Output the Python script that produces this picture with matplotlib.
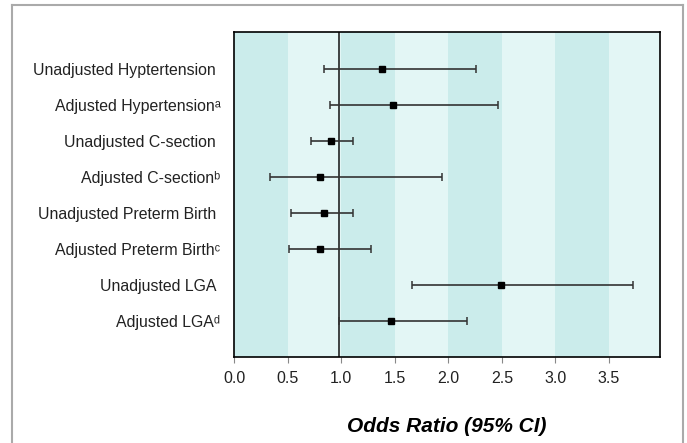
import matplotlib
matplotlib.use("Agg")
import matplotlib.pyplot as plt
from matplotlib.lines import Line2D

plt.rcParams['font.family'] = ['Liberation Sans', 'DejaVu Sans']

# forest plot data
labels = [
    "Unadjusted Hyptertension ",
    "Adjusted Hypertension\u1d43",
    "Unadjusted C-section ",
    "Adjusted C-section\u1d47",
    "Unadjusted Preterm Birth ",
    "Adjusted Preterm Birth\u1d9c",
    "Unadjusted LGA ",
    "Adjusted LGA\u1d48",
]
odds_ratio = [1.38, 1.48, 0.90, 0.80, 0.84, 0.80, 2.49, 1.46]
ci_low = [0.84, 0.89, 0.72, 0.33, 0.53, 0.51, 1.66, 0.98]
ci_high = [2.26, 2.46, 1.11, 1.94, 1.11, 1.28, 3.73, 2.17]
xticks = [0.0, 0.5, 1.0, 1.5, 2.0, 2.5, 3.0, 3.5]
ref_x = 0.98

fig = plt.figure(figsize=(6.87, 4.43), dpi=100)
ax = fig.add_axes([0.341, 0.194, 0.620, 0.734])

# alternating background bands every 0.5
dark = '#cbeceb'
light = '#e3f6f5'
for i in range(8):
    ax.axvspan(i * 0.5, (i + 1) * 0.5, color=dark if i % 2 == 0 else light,
               lw=0, zorder=0)

ax.axvline(ref_x, color='#111111', lw=1.1, zorder=1)

y = list(range(len(labels)))
xerr = [[o - l for o, l in zip(odds_ratio, ci_low)],
        [h - o for o, h in zip(odds_ratio, ci_high)]]
ax.errorbar(odds_ratio, y, xerr=xerr, fmt='s', color='black', ms=5,
            ecolor='#333333', elinewidth=1.2, capsize=2.8, capthick=1.1,
            zorder=3)

ax.set_xlim(0, 3.98)
ax.set_ylim(8.0, -1.03)
ax.set_xticks(xticks)
ax.set_xticklabels([f"{t:.1f}" for t in xticks], fontsize=11.5, color='#222222')
ax.set_yticks(y)
ax.set_yticklabels(labels, fontsize=11.4, color='#222222')
ax.tick_params(axis='y', length=0, pad=10)
ax.tick_params(axis='x', length=4, color='#888888', pad=6, direction='out')

for s in ax.spines.values():
    s.set_color('black')
    s.set_linewidth(1.2)

ax.set_xlabel("Odds Ratio (95% CI)", fontsize=15, fontweight='bold',
              fontstyle='italic', labelpad=22)

# light grey frame around the whole chart (open at the bottom)
fx0, fx1, fy1 = 12.5 / 687, 683 / 687, 1 - 5 / 443
for xs, ys in [([fx0, fx1], [fy1, fy1]), ([fx0, fx0], [0, fy1]),
               ([fx1, fx1], [0, fy1])]:
    fig.add_artist(Line2D(xs, ys, transform=fig.transFigure,
                          color='#aaaaaa', lw=1.5))

fig.savefig("out.png", dpi=100)
